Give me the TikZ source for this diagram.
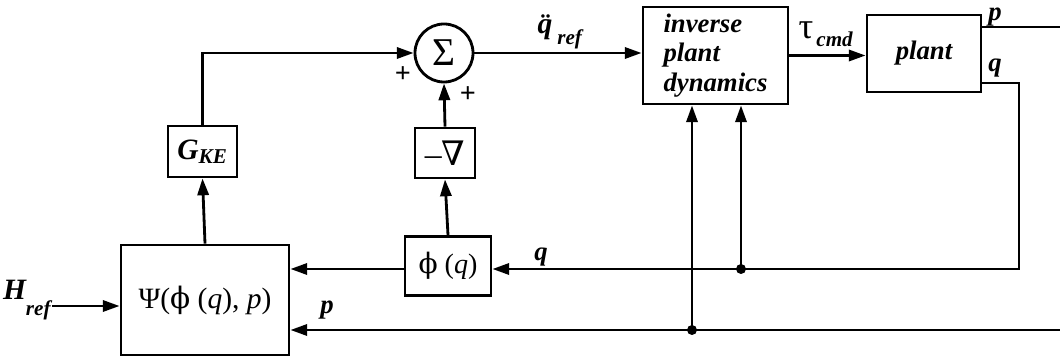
\documentclass[tikz,border=0pt]{standalone}
\usepackage{fontspec}
\setmainfont{Liberation Serif}
\newfontfamily\grk{DejaVu Serif}
\usetikzlibrary{arrows.meta}
\tikzset{
  blk/.style={draw, line width=2pt, inner sep=0pt},
  bi/.style={font=\fontsize{19}{21}\selectfont\bfseries\itshape},
  lbl/.style={inner sep=0pt, font=\fontsize{19}{20}\selectfont\bfseries\itshape},
}
\newcommand{\fii}{{\grk ϕ}}
\begin{document}
\begin{tikzpicture}[x=0.025cm, y=-0.025cm, line width=2pt,
    >={Triangle[length=0.42cm,width=0.28cm]}, line cap=butt,
    font=\fontsize{20}{22}\selectfont]

  \useasboundingbox (0,0) rectangle (1060,359);

  % Bloky
  \node[blk, circle, minimum size=1.45cm] (sum) at (444,53) {\fontsize{28}{28}\selectfont Σ};
  \node[blk, minimum width=1.725cm, minimum height=1.275cm, bi] (gke) at (202.5,151.5) {\fontsize{21}{21}\selectfont G\textsubscript{\fontsize{15}{15}\selectfont KE}};
  \node[blk, minimum width=1.5cm, minimum height=1.25cm] (grad) at (445,153) {\fontsize{24}{24}\selectfont –{\grk ∇}};
  \node[blk, minimum width=3.625cm, minimum height=2.425cm, bi, align=left] (inv) at (715.5,55.5)
    {inverse\\plant\\dynamics};
  \node[blk, minimum width=2.85cm, minimum height=1.925cm, bi] (plant) at (924,53.5) {plant};
  \node[blk, minimum width=2.15cm, minimum height=1.475cm] (phi) at (448,266) {\fii\ (\textit{q})};
  \node[blk, minimum width=4.2cm, minimum height=2.75cm] (psi) at (205,300)
    {\fontsize{21}{21}\selectfont Ψ(\fii\ (\textit{q}), \textit{p})};
  \node[lbl, anchor=east] (href) at (52,300) {\fontsize{21}{21}\selectfont H\raisebox{-1.2ex}{\fontsize{15}{15}\selectfont ref}};

  % Pomocne body
  \coordinate (pout) at (1060,27);
  \coordinate (qc) at (1019,269);
  \coordinate (qj) at (741,269);
  \coordinate (pin) at (1060,330);
  \coordinate (pj) at (692,330);

  % Spoje
  \draw[->] (gke.north) |- (sum.west);
  \draw[->] (grad.north) -- (sum.south);
  \draw[->] (sum.east) -- (sum.east -| inv.west);
  \draw[->] (inv.east) -- (inv.east -| plant.west);
  \draw (plant.east |- pout) -- (pout);
  \draw[->] (plant.east |- 0,83) -| (qc) -- (qc -| phi.east);
  \draw[->] (qj) -- (qj |- inv.south);
  \draw[->] (pin) -- (psi.east |- pin);
  \draw[->] (pj) -- (pj |- inv.south);
  \draw[->] (phi.west |- qc) -- (qc -| psi.east);
  \draw[->] (phi.north) -- (grad.south);
  \draw[->] (psi.north) -- (gke.south);
  \draw[->] (href.east |- 0,306) -- (psi.west |- 0,306);
  \fill (qj) circle (5);
  \fill (pj) circle (5);

  % Popisky
  \node[lbl] (qdd) at (545,27) {\fontsize{21}{21}\selectfont\"q};
  \node[lbl, anchor=west] (qref) at (556,39) {\fontsize{15}{15}\selectfont ref};
  \node[inner sep=0pt] (tau) at (806,30) {\fontsize{26}{26}\selectfont τ};
  \node[lbl, anchor=west] (cmd) at (815,39) {\fontsize{15}{15}\selectfont cmd};
  \node[lbl] (plbl) at (995,17) {p};
  \node[lbl] (qlbl) at (995,68) {q};
  \node[lbl] (qlbl2) at (541,257) {q};
  \node[lbl] (plbl2) at (327,310) {p};
  \node[inner sep=0pt, font=\fontsize{20}{20}\selectfont\bfseries] (pl1) at (403,75) {+};
  \node[inner sep=0pt, font=\fontsize{20}{20}\selectfont\bfseries] (pl2) at (468,95) {+};

\end{tikzpicture}
\end{document}
